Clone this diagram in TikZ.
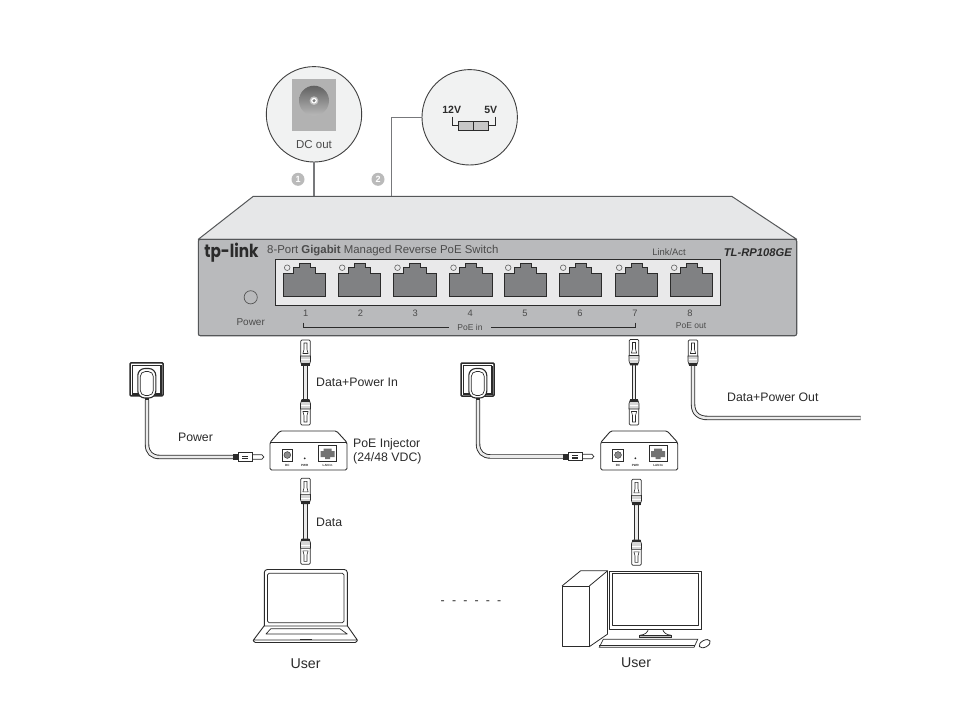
\documentclass[tikz,border=0pt]{standalone}
\usepackage{fontspec}
\setmainfont{Liberation Sans}
\newfontfamily\logofont{Poppins}
\definecolor{ink}{HTML}{2B2B2B}
\definecolor{edge}{HTML}{555759}
\definecolor{front}{HTML}{B9BABC}
\definecolor{topface}{HTML}{E6E7E8}
\definecolor{panel}{HTML}{E9E9EA}
\definecolor{portfill}{HTML}{808183}
\definecolor{bubble}{HTML}{F1F2F2}
\definecolor{leadgray}{HTML}{77787B}
\newcommand{\fpx}[1]{\fontsize{#1}{#1}\selectfont}
\tikzset{
  lbl/.style={text=ink,inner sep=0pt,font=\fpx{12.3}},
  swlbl/.style={text=ink!85,inner sep=0pt,font=\fpx{8.5}},
  num/.style={text=ink!85,inner sep=0pt,font=\fpx{9.3}},
  user/.style={text=ink,inner sep=0pt,font=\fpx{14.2}},
  tiny3/.style={text=ink,inner sep=0pt,font=\bfseries\fpx{3}},
  bubblenode/.style={circle,draw=ink!90,line width=.9pt,fill=bubble,minimum size=95.4pt,inner sep=0pt},
  badge/.style={circle,fill=black!27,text=white,inner sep=0pt,minimum size=13pt,font=\bfseries\fpx{9}},
  leader/.style={draw=leadgray,line width=1.2pt},
  bracket/.style={draw=ink,line width=.7pt},
  cable/.style={draw=ink,line width=.9pt,double=black!8,double distance=2.6pt},
  device/.style={draw=ink,line width=.9pt,line join=round},
  socket/.style={draw=ink,line width=1.5pt,fill=white,rounded corners=1pt,minimum size=33pt,inner sep=0pt},
  plug/.pic={
    \filldraw[fill=white,draw=ink,line width=.7pt] (-4.8,17)--(-4.8,1.2)--(-3.6,0)--(3.6,0)--(4.8,1.2)--(4.8,17)--cycle;
    \draw[ink,line width=.6pt] (-1.5,3)--(-1.5,9.5)--(-2.6,13.5)--(2.6,13.5)--(1.5,9.5)--(1.5,3)--cycle;
    \filldraw[fill=black!16,draw=ink,line width=.6pt] (-5,16)--(5,16)--(5,21.5)--(3.6,25.5)--(-3.6,25.5)--(-5,21.5)--cycle;
    \fill[ink] (-4.2,23) rectangle (4.2,25.5);
    \draw[white,line width=.5pt] (-4.3,19.5)--(4.3,19.5);
  },
  rjport/.pic={
    \filldraw[fill=portfill,draw=ink,line width=.7pt] (0,10)--(10.3,10)--(10.3,4)--(16,4)--(16,0)--(27,0)--(27,4)--(32.6,4)--(32.6,10)--(42.7,10)--(42.7,33.4)--(0,33.4)--cycle;
    \filldraw[fill=panel,draw=ink!75,line width=.6pt] (4.2,4.4) circle (2.8);
  },
  dcplug/.pic={
    \fill[ink] (0,-3) rectangle (5.5,3);
    \filldraw[fill=white,draw=ink,line width=.7pt] (5.5,-4.3) rectangle (19.5,4.3);
    \fill[ink] (9,-1.5) rectangle (15,-.3);
    \fill[ink] (9,.8) rectangle (15,2);
    \filldraw[fill=white,draw=ink,line width=.7pt] (19.5,-2.2)--(29,-2.2)--(30.8,0)--(29,2.2)--(19.5,2.2)--cycle;
  },
  injector/.pic={
    \filldraw[fill=white,device,rounded corners=1.5pt] (0,11.5)--(10,0)--(66.5,0)--(77,11.5)--(77,39)--(0,39)--cycle;
    \draw[device] (1,11.3)--(76,11.3);
    \filldraw[fill=white,draw=ink,line width=.8pt] (12,18) rectangle (22.7,30);
    \filldraw[fill=black!45,draw=ink,line width=.4pt] (17.3,24) circle (3.4);
    \fill[ink] (34.7,27.3) circle (1);
    \filldraw[fill=white,draw=ink,line width=.9pt] (48.3,14) rectangle (66.7,30);
    \fill[black!55] (50.5,20)--(53.5,20)--(53.5,17.5)--(61.5,17.5)--(61.5,20)--(64.5,20)--(64.5,26)--(60,26)--(60,28)--(55,28)--(55,26)--(50.5,26)--cycle;
    \node[tiny3] at (17.3,34.7) {DC};
    \node[tiny3] at (34.7,34.7) {PWR};
    \node[tiny3] at (57.5,34.7) {LAN In};
  },
}
\begin{document}
\begin{tikzpicture}[x=1pt,y=-1pt]
\useasboundingbox (0,0) rectangle (968,701);
\fill[white] (0,0) rectangle (968,701);

% leaders
\coordinate (anchorA) at (314,196.5);
\coordinate (anchorB) at (391.7,196.5);
\node[bubblenode] (dcbubble) at (314,114.3) {};
\node[bubblenode] (vbubble) at (469.7,117.3) {};
\draw[leader] (dcbubble.south) -- (anchorA);
\draw[leader] (vbubble.west) -| (anchorB);
\node[badge] (b1) at (298,179.3) {1};
\node[badge] (b2) at (378,179.3) {2};

% DC jack
\fill[black!30] (292.3,79) rectangle (335.7,130.7);
\shade[top color=black!62,bottom color=black!28] (314,100.7) circle (15);
\fill[black!25] (314,100.7) circle (4.4);
\fill[white] (314,100.7) circle (2.9);
\fill[black!50] (314,100.7) circle (1.7);
\node[lbl,text=ink!85,font=\fpx{11.5}] (dctext) at (314,145) {DC out};

% voltage switch
\node[inner sep=0pt,text=ink,font=\bfseries\fpx{10.5}] (v12) at (451.7,109.5) {12V};
\node[inner sep=0pt,text=ink,font=\bfseries\fpx{10.5}] (v5) at (490.7,109.5) {5V};
\filldraw[fill=black!22,draw=ink,line width=.8pt] (458.3,121) rectangle (488.7,130.7);
\draw[ink,line width=.8pt] (473.5,121)--(473.5,130.7);
\coordinate (swL) at (458.3,125);
\coordinate (swR) at (488.7,125);
\draw[bracket] (452.3,116.5) |- (swL);
\draw[bracket] (495,116.5) |- (swR);

% switch body
\filldraw[fill=topface,draw=edge,line width=1pt,line join=round] (198.3,239.3)--(253.3,196.3)--(731.7,196.3)--(796.7,239.3)--cycle;
\filldraw[fill=front,draw=edge,line width=1.1pt,rounded corners=2pt] (198.3,239.3) rectangle (796.7,335.7);
\filldraw[fill=panel,draw=ink,line width=.9pt] (275.7,259.3) rectangle (720.3,305.7);
\foreach \px in {283,338,393.3,449.3,504,559,615,670} \pic at (\px,263.3) {rjport};
\foreach \nx/\nt in {305.8/1,360.5/2,415.3/3,470.3/4,525/5,580/6,635/7,690/8} \node[num] at (\nx,313.7) {\nt};
\filldraw[fill=front,draw=ink!80,line width=.7pt] (250.7,297.3) circle (6.6);
\node[swlbl,font=\fpx{10}] (powerlbl) at (250.7,322) {Power};
\node[inner sep=0pt,text=ink,font=\logofont\bfseries\fpx{18}] (logo) at (231.5,252.3) {\scalebox{.85}[1]{tp-link}};
\node[inner sep=0pt,anchor=west,text=ink!85,font=\fpx{11.4}] (title) at (267,250.5) {8-Port \textbf{Gigabit} Managed Reverse PoE Switch};
\node[swlbl,font=\fpx{9.4}] (linkact) at (669,252.3) {Link/Act};
\node[inner sep=0pt,text=ink,font=\bfseries\itshape\fpx{11.2}] (model) at (757.8,252.3) {TL-RP108GE};
\node[swlbl,minimum width=42pt] (poein) at (470,327.3) {PoE in};
\node[swlbl] (poeout) at (691,326) {PoE out};
\coordinate (brL) at (303.7,322.5);
\coordinate (brR) at (635,322.5);
\draw[bracket] (brL) |- (poein.west);
\draw[bracket] (brR) |- (poein.east);

% cables between plugs
\foreach \n/\cx/\ya/\yb in {p/305.5/340/425,q/305.5/478.3/564.3,r/634/339.5/425,s/636.5/479.3/565.3}{
  \coordinate (\n top) at (\cx,\ya);
  \coordinate (\n bot) at (\cx,\yb);
  \coordinate (\n A) at (\cx,\ya+25);
  \coordinate (\n B) at (\cx,\yb-25);
  \draw[cable] (\n A) -- (\n B);
  \pic at (\n top) {plug};
  \pic[rotate=180] at (\n bot) {plug};
}
% out cable
\coordinate (ttop) at (693,340);
\coordinate (tA) at (693,365);
\coordinate (tEnd) at (860.5,418);
\draw[cable] (tA) -- (693,404) .. controls (693,414) and (699,418) .. (708,418) -- (tEnd);
\pic at (ttop) {plug};

% sockets and power cables
\node[socket] (wallA) at (146.6,379.3) {};
\node[socket] (wallB) at (477.5,379.5) {};
\foreach \w/\wx/\wy in {wallA/146.8/368.5,wallB/477.8/368.5}{
  \draw[ink,line width=.7pt] ([shift={(-14.5,-14)}]\w.center) -- ([shift={(14.5,-14)}]\w.center);
  \draw[ink,line width=.7pt] ([shift={(-14.5,-14)}]\w.center) -- ([shift={(-14.5,14)}]\w.center);
  \draw[ink,line width=1.6pt] ([shift={(-14.5,14.5)}]\w.center) -- ([shift={(14.5,14.5)}]\w.center) -- ([shift={(14.5,-14)}]\w.center);
  \filldraw[fill=white,draw=ink,line width=1.1pt,rounded corners=7pt] (\wx-9,\wy) rectangle (\wx+9,\wy+29.5);
  \filldraw[fill=white,draw=ink,line width=.7pt,rounded corners=5pt] (\wx-6.5,\wy+3) rectangle (\wx+6.5,\wy+27);
  \fill[ink] (\wx-2,\wy+29) rectangle (\wx+2,\wy+32);
}
\coordinate (pwA) at (233,457);
\coordinate (pwB) at (563,456.5);
\draw[cable] (147,400) -- (147,444) .. controls (147,453) and (152,457) .. (160,457) -- (pwA);
\draw[cable] (478,400) -- (478,443.5) .. controls (478,452.5) and (483,456.5) .. (491,456.5) -- (pwB);
\pic at (pwA) {dcplug};
\pic at (pwB) {dcplug};

% injectors
\pic at (270,431) {injector};
\begin{scope}[shift={(600.7,431)},xscale=.952]
\pic at (0,0) {injector};
\end{scope}

% labels
\node[lbl,anchor=west] (lDP) at (316,382.7) {Data+Power In};
\node[lbl] (lP) at (195.5,437.7) {Power};
\node[lbl,anchor=west] (lI1) at (353,444.7) {PoE Injector};
\node[lbl,anchor=west] (lI2) at (353,458.7) {(24/48 VDC)};
\node[lbl,anchor=west] (lD) at (316,522.7) {Data};
\node[lbl,anchor=west] (lO) at (727,397.7) {Data+Power Out};
\node[user] (u1) at (305.5,663.5) {User};
\node[user] (u2) at (636,663) {User};
\node[lbl] (dots) at (471,603) {\spaceskip=7.2pt\relax - - - - - -};

% laptop
\filldraw[fill=white,device,rounded corners=3pt] (264.3,626)--(264.3,569.5)--(347.3,569.5)--(347.3,626);
\draw[device,rounded corners=1.5pt,line width=.7pt] (267.5,622.7)--(267.5,573.3)--(344,573.3)--(344,622.7)--cycle;
\draw[device] (264,626)--(347.5,626)--(357.3,640)--(253.5,640)--cycle;
\draw[device,line width=.7pt] (270.7,628.8)--(340,628.8)--(347.3,634)--(266,634)--cycle;
\draw[device,rounded corners=1.5pt] (253.3,640)--(253.8,642.5)--(356.8,642.5)--(357.3,640);
\draw[ink,line width=1.4pt] (300,639.6)--(312,639.6);

% desktop
\draw[device,line width=.8pt] (562,586)--(580.7,570.7)--(607.7,570.7);
\draw[device,line width=.8pt] (589.3,586)--(607.7,570.7);
\draw[device,line width=.8pt] (589.3,646.7)--(607.7,634);
\draw[device,line width=.8pt] (562,586) rectangle (589.3,646.7);
\draw[device,line width=.8pt] (607.7,570.7)--(607.7,634);
\draw[device] (609.2,571.7) rectangle (701.7,629.3);
\draw[device,line width=.8pt] (612.3,573.5) rectangle (698.7,625.3);
\draw[ink,line width=.7pt] (648.3,629.3) .. controls (647.8,632) and (645,635) .. (640,635.2);
\draw[ink,line width=.7pt] (662.7,629.3) .. controls (663.2,632) and (666,635) .. (671,635.2);
\filldraw[fill=black!25,draw=ink,line width=.5pt] (639,635.2) rectangle (671.7,637.3);
\filldraw[fill=white,draw=ink,line width=.7pt] (603.3,639.3)--(697.7,639.3)--(694,647.3)--(599.3,647.3)--cycle;
\draw[ink,line width=.7pt] (599.3,645)--(694.5,645);
\draw[ink,line width=.8pt,rotate around={28:(704.7,643.7)}] (704.7,643.7) ellipse (6 and 3.4);
\end{tikzpicture}
\end{document}
